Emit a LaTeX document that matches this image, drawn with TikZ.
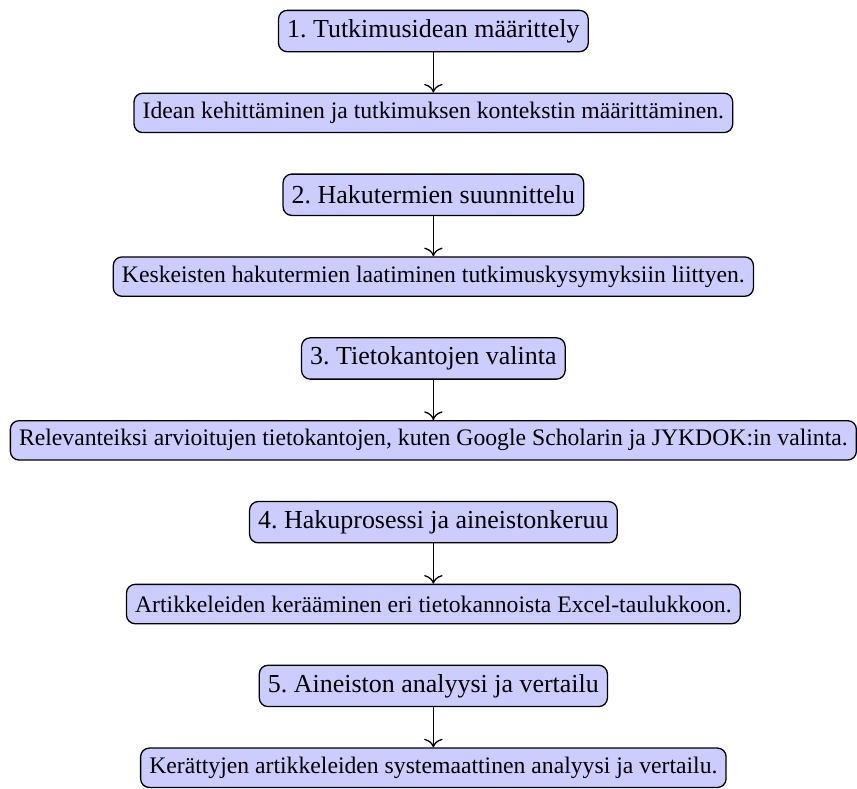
\documentclass[tikz,border=0pt,12pt]{standalone}
\usepackage{fontspec}
\setmainfont{Liberation Serif}
\usepackage{tikz}
\usetikzlibrary{arrows,arrows.meta,calc,positioning}
\frenchspacing

\begin{document}
\begin{tikzpicture}[
	node distance=18.6pt,
	vaihe/.style={draw,semithick,rounded corners,fill=blue!20,inner ysep=2pt,minimum height=19.1pt},
	kuvaus/.style={draw,semithick,rounded corners,fill=blue!20,font=\small,inner ysep=2pt,minimum height=18.2pt},
	askel/.style={semithick,-{To[length=4pt,width=8.5pt]}}]
		\node[vaihe] (v1) {1. Tutkimusidean määrittely};
		\node[kuvaus,below=of v1] (k1) {Idean kehittäminen ja tutkimuksen kontekstin määrittäminen.};
		\node[vaihe,below=of k1] (v2) {2. Hakutermien suunnittelu};
		\node[kuvaus,below=of v2] (k2) {Keskeisten hakutermien laatiminen tutkimuskysymyksiin liittyen.};
		\node[vaihe,below=of k2] (v3) {3. Tietokantojen valinta};
		\node[kuvaus,below=of v3] (k3) {Relevanteiksi arvioitujen tietokantojen, kuten Google Scholarin ja JYKDOK:in valinta.};
		\node[vaihe,below=of k3] (v4) {4. Hakuprosessi ja aineistonkeruu};
		\node[kuvaus,below=of v4] (k4) {Artikkeleiden kerääminen eri tietokannoista Excel-taulukkoon.};
		\node[vaihe,below=of k4] (v5) {5. Aineiston analyysi ja vertailu};
		\node[kuvaus,below=of v5] (k5) {Kerättyjen artikkeleiden systemaattinen analyysi ja vertailu.};
		\draw[askel] (v1) -- (k1);
		\draw[askel] (v2) -- (k2);
		\draw[askel] (v3) -- (k3);
		\draw[askel] (v4) -- (k4);
		\draw[askel] (v5) -- (k5);
		\useasboundingbox ($(k3.west |- v1.north)+(-4.5pt,4.5pt)$) rectangle ($(k3.east |- k5.south)+(-0.5pt,1pt)$);
		\end{tikzpicture}
\end{document}
